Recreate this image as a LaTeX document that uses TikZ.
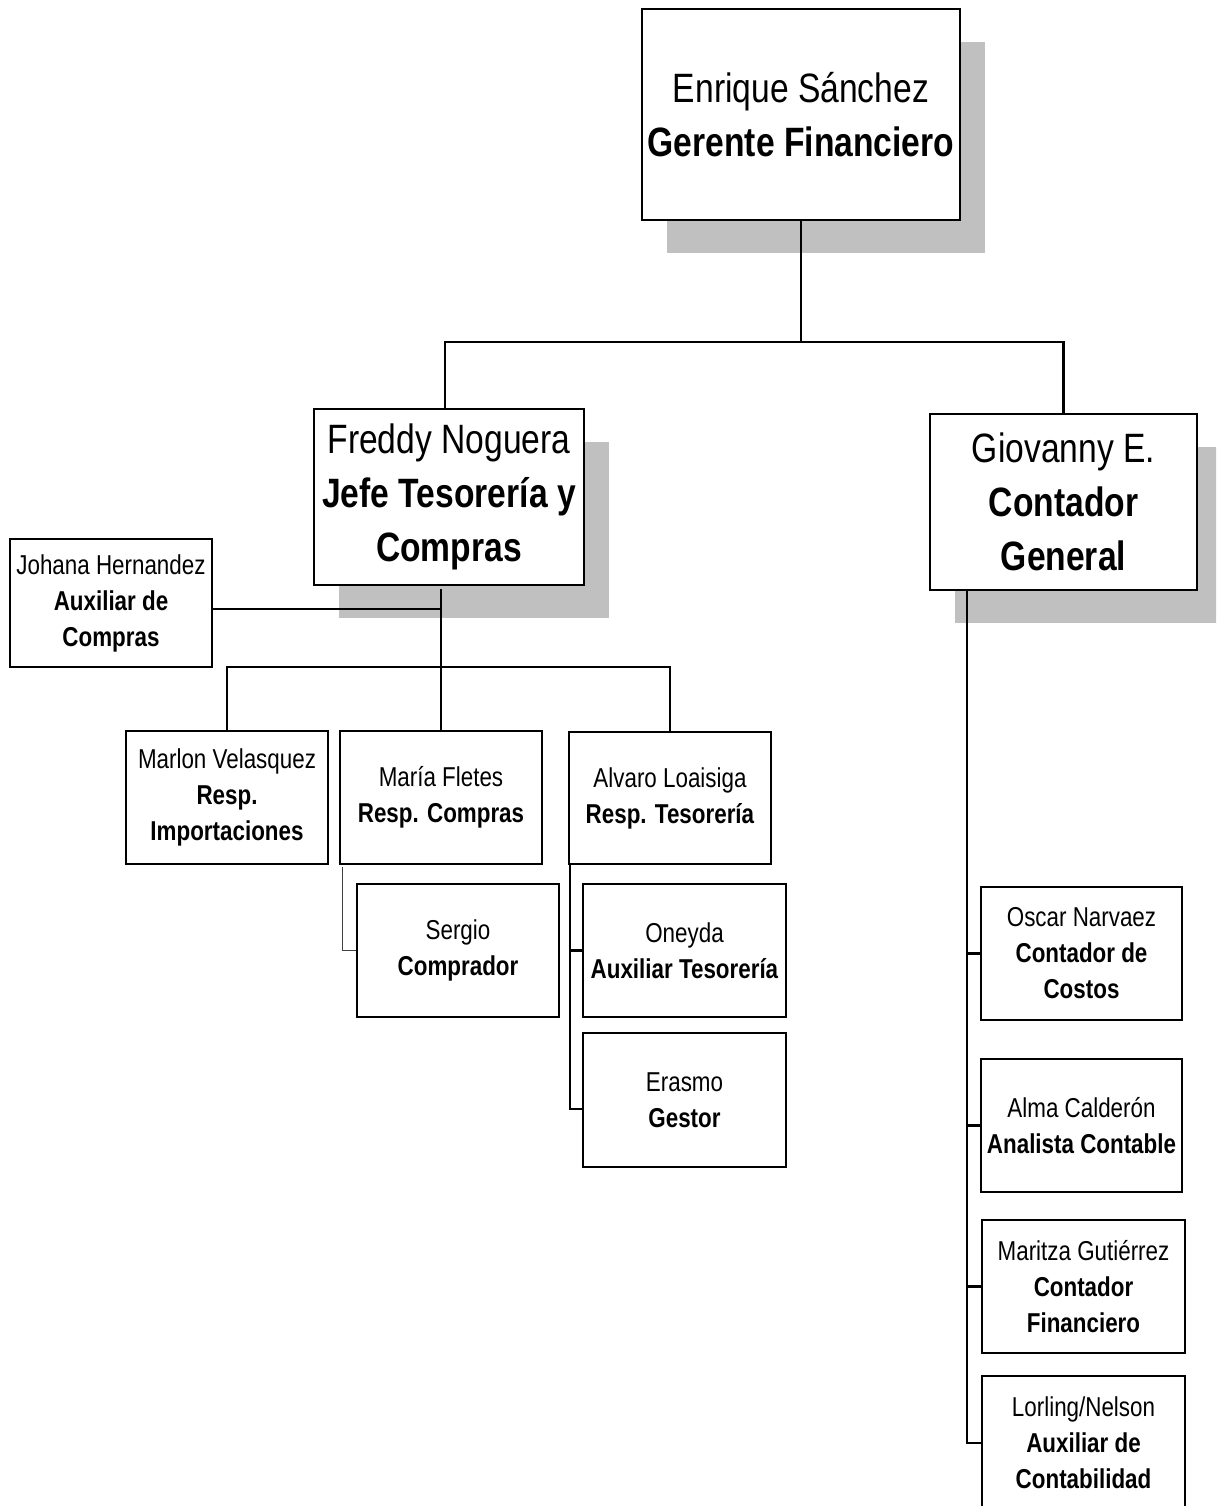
\documentclass[tikz,border=0pt]{standalone}
\usepackage{fontspec}
\setmainfont[FakeStretch=0.82]{Liberation Sans}
\usetikzlibrary{shadows}
\definecolor{shade}{RGB}{192,192,192}
\tikzset{
  unit/.style={draw, line width=2.6pt, fill=white, align=center, inner sep=0pt},
  big/.style={unit, font=\fontsize{41}{54}\selectfont},
  small/.style={unit, font=\fontsize{27.3}{36}\selectfont},
  shadowed/.style={general shadow={fill=shade, shadow xshift=25pt, shadow yshift=-33pt}},
  link/.style={line width=2.4pt},
  thinlink/.style={line width=1.2pt, black!75},
}
\begin{document}
\begin{tikzpicture}[x=1pt, y=-1pt]
\useasboundingbox (0,0) rectangle (1216,1506);
\clip (0,0) rectangle (1216,1506);

% upper levels
\node[big, shadowed, minimum width=318pt, minimum height=211pt] (gerente) at (801,114.5)
  {Enrique Sánchez\\\textbf{Gerente Financiero}};
\node[big, shadowed, minimum width=270pt, minimum height=176pt] (jefe) at (449,497)
  {Freddy Noguera\\\textbf{Jefe Tesorería y}\\\textbf{Compras}};
\node[big, shadowed, minimum width=267pt, minimum height=176pt] (contador) at (1063.5,502)
  {Giovanny E.\\\textbf{Contador}\\\textbf{General}};

% treasury and purchasing
\node[small, minimum width=202pt, minimum height=128pt] (johana) at (111,603)
  {Johana Hernandez\\\textbf{Auxiliar de}\\\textbf{Compras}};
\node[small, minimum width=202pt, minimum height=133pt] (marlon) at (227,797.5)
  {Marlon Velasquez\\\textbf{Resp.}\\\textbf{Importaciones}};
\node[small, minimum width=202pt, minimum height=133pt] (maria) at (441,797.5)
  {María Fletes\\\textbf{Resp. Compras}};
\node[small, minimum width=202pt, minimum height=132pt] (alvaro) at (670,798)
  {Alvaro Loaisiga\\\textbf{Resp. Tesorería}};
\node[small, minimum width=202pt, minimum height=133pt] (sergio) at (458,950.5)
  {Sergio\\\textbf{Comprador}};
\node[small, minimum width=203pt, minimum height=133pt] (oneyda) at (684.5,950.5)
  {Oneyda\\\textbf{Auxiliar Tesorería}};
\node[small, minimum width=203pt, minimum height=134pt] (erasmo) at (684.5,1100)
  {Erasmo\\\textbf{Gestor}};

% accounting
\node[small, minimum width=201pt, minimum height=133pt] (oscar) at (1081.5,953.5)
  {Oscar Narvaez\\\textbf{Contador de}\\\textbf{Costos}};
\node[small, minimum width=201pt, minimum height=133pt] (alma) at (1081.5,1125.5)
  {Alma Calderón\\\textbf{Analista Contable}};
\node[small, minimum width=203pt, minimum height=133pt] (maritza) at (1083.5,1286.5)
  {Maritza Gutiérrez\\\textbf{Contador}\\\textbf{Financiero}};
\node[small, minimum width=203pt, minimum height=134pt] (lorling) at (1083.5,1443)
  {Lorling/Nelson\\\textbf{Auxiliar de}\\\textbf{Contabilidad}};

% connectors
\coordinate (topbus) at (801,342);
\draw[link] (gerente.south) -- (topbus);
\draw[link] ([xshift=-4pt]jefe.north) |- (topbus) -| (contador.north);

\coordinate (midbus) at (441,667);
\draw[link] ([yshift=-3pt]jefe.south -| maria.north) -- (maria.north);
\draw[link] ([yshift=-6pt]johana.east) -- ([yshift=-6pt]johana.east -| maria.north);
\draw[link] (marlon.north) |- (midbus) -| (alvaro.north);

\draw[thinlink] ([xshift=4pt,yshift=-2pt]maria.south west) |- (sergio.west);

\draw[link] ([xshift=2pt,yshift=-6pt]alvaro.south west) |- (oneyda.west);
\draw[link] ([xshift=2pt]alvaro.south west) |- ([yshift=-9pt]erasmo.west);

\draw[link] ([xshift=38pt]contador.south west) |- (lorling.west);
\draw[link] ([xshift=38pt]contador.south west |- oscar.west) -- (oscar.west);
\draw[link] ([xshift=38pt]contador.south west |- alma.west) -- (alma.west);
\draw[link] ([xshift=38pt]contador.south west |- maritza.west) -- (maritza.west);
\end{tikzpicture}
\end{document}
